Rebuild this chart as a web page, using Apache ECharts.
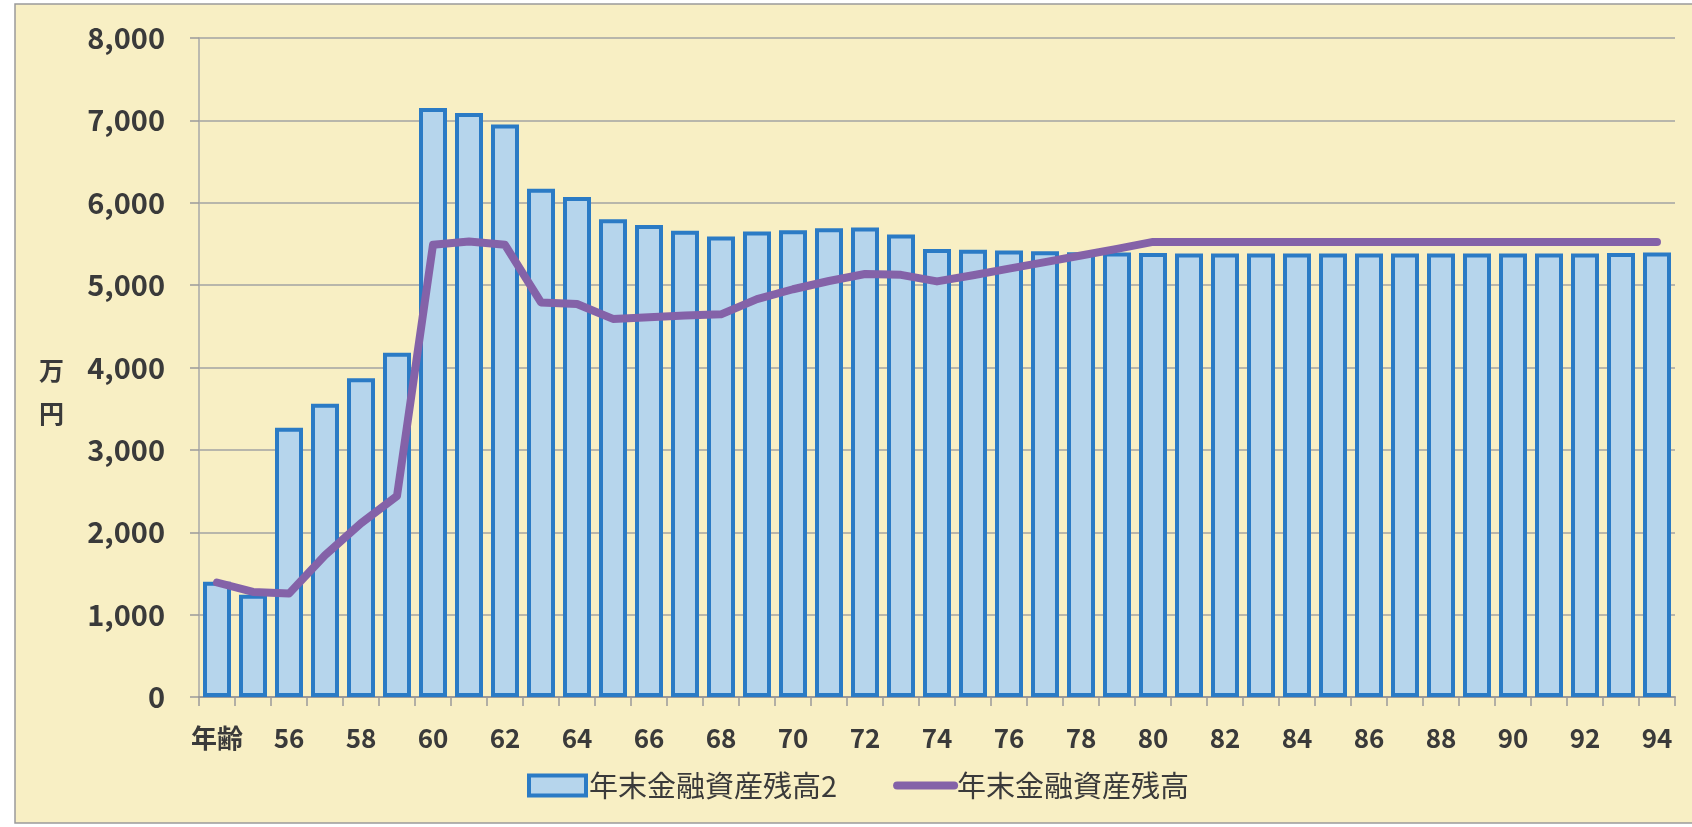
<!DOCTYPE html>
<html>
<head>
<meta charset="utf-8">
<script src="https://cdn.jsdelivr.net/npm/echarts@6/dist/echarts.min.js"></script>
<style>
  html, body { margin: 0; padding: 0; background: #ffffff; }
  #chart { width: 1692px; height: 827px; }
</style>
</head>
<body>
<div id="chart"></div>
<script>
// ---- data ----
const categories = ['年齢', '55', '56', '57', '58', '59', '60', '61', '62', '63', '64',
  '65', '66', '67', '68', '69', '70', '71', '72', '73', '74',
  '75', '76', '77', '78', '79', '80', '81', '82', '83', '84',
  '85', '86', '87', '88', '89', '90', '91', '92', '93', '94'];

const barName = '年末金融資産残高2';
const barValues = [1400, 1240, 3270, 3560, 3870, 4180, 7150, 7090, 6950, 6170, 6070,
  5800, 5730, 5660, 5590, 5650, 5665, 5690, 5700, 5615, 5440,
  5430, 5420, 5410, 5400, 5395, 5390, 5385, 5385, 5385, 5385,
  5385, 5385, 5385, 5385, 5385, 5385, 5385, 5385, 5390, 5395];

const lineName = '年末金融資産残高';
const lineValues = [1390, 1275, 1255, 1720, 2110, 2440, 5490, 5530, 5490, 4790, 4770,
  4590, 4610, 4630, 4645, 4830, 4950, 5050, 5135, 5125, 5045,
  5120, 5200, 5280, 5360, 5440, 5525, 5525, 5525, 5525, 5525,
  5525, 5525, 5525, 5525, 5525, 5525, 5525, 5525, 5525, 5525];

const yAxisName = '万\n円';
const yMin = 0, yMax = 8000, yStep = 1000;

// ---- chart ----
const FONT = '"Noto Sans CJK JP", "Noto Sans", sans-serif';
const TEXT = '#3a3a3a';
const BAR_FILL = '#b6d5ec';
const BAR_EDGE = '#2b7bc5';
const LINE_COLOR = '#8462a8';
const chart = echarts.init(document.getElementById('chart'), null, { renderer: 'canvas' });

chart.setOption({
  animation: false,
  backgroundColor: '#ffffff',
  graphic: [
    {
      type: 'rect',
      z: -10,
      silent: true,
      shape: { x: 15, y: 4, width: 1700, height: 819 },
      style: { fill: '#f8efc4', stroke: '#9a9a9a', lineWidth: 1.5 }
    },
    {
      type: 'text',
      left: 39,
      top: 349,
      z: 10,
      style: {
        text: yAxisName,
        font: 'bold 25px ' + FONT,
        fill: TEXT,
        lineHeight: 43
      }
    }
  ],
  grid: { left: 199, right: 17, top: 38, bottom: 130, containLabel: false },
  legend: {
    left: 522,
    top: 766,
    itemWidth: 57,
    itemHeight: 20,
    itemGap: 56,
    textStyle: { fontFamily: FONT, fontSize: 29, color: TEXT, padding: [0, 0, 0, -2] },
    data: [
      { name: barName, icon: 'rect', itemStyle: { color: BAR_FILL, borderColor: BAR_EDGE, borderWidth: 4 } },
      { name: lineName, itemStyle: { opacity: 0 }, lineStyle: { width: 8, color: LINE_COLOR, cap: 'round' } }
    ]
  },
  xAxis: {
    type: 'category',
    data: categories,
    boundaryGap: true,
    axisLine: { show: true, lineStyle: { color: '#9a9a9a', width: 2 } },
    axisTick: { show: true, interval: 0, length: 9, lineStyle: { color: '#9a9a9a', width: 1.5 } },
    axisLabel: {
      interval: 1,
      margin: 28,
      fontFamily: FONT,
      fontSize: 26,
      fontWeight: 'bold',
      color: TEXT
    }
  },
  yAxis: {
    type: 'value',
    min: yMin,
    max: yMax,
    interval: yStep,
    axisLine: { show: true, lineStyle: { color: '#a8a8a8', width: 1.5 } },
    axisTick: { show: true, length: 9, lineStyle: { color: '#9a9a9a', width: 1.5 } },
    splitLine: { show: true, lineStyle: { color: '#a3a3a3', width: 1.5 } },
    axisLabel: {
      margin: 34,
      fontFamily: FONT,
      fontSize: 29,
      fontWeight: 'bold',
      color: TEXT,
      formatter: v => v.toLocaleString('en-US')
    }
  },
  series: [
    {
      name: barName,
      type: 'bar',
      data: barValues,
      barWidth: 28,
      itemStyle: { color: BAR_FILL, borderColor: BAR_EDGE, borderWidth: 4 },
      z: 2
    },
    {
      name: lineName,
      type: 'line',
      data: lineValues,
      symbol: 'none',
      lineStyle: { color: LINE_COLOR, width: 8, cap: 'round', join: 'round' },
      itemStyle: { color: LINE_COLOR },
      z: 3
    }
  ]
});
</script>
</body>
</html>
